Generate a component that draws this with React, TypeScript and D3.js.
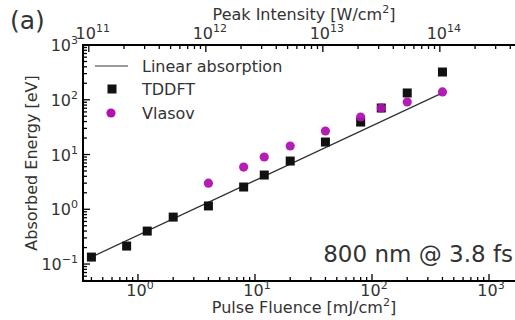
import React from "react";
import * as d3 from "d3";

const fluence = [0.4, 0.8, 1.2, 2, 4, 8, 12, 20, 40, 80, 120, 200, 400];
const tddftEnergy = [0.134, 0.213, 0.4, 0.72, 1.15, 2.55, 4.22, 7.6, 16.9, 39.2, 70.7, 133, 321];
const vlasovFluence = [4, 8, 12, 20, 40, 80, 120, 200, 400];
const vlasovEnergy = [3.0, 5.9, 9.0, 14.3, 26.9, 48.4, 70.7, 91, 139];
const linearFluence = [0.4, 400];
const linearEnergy = [0.134, 134];
const xTickExps = [0, 1, 2, 3];
const yTickExps = [-1, 0, 1, 2, 3];
const topTickExps = [11, 12, 13, 14];
const pulseDurationFs = 3.8;

const W = 515;
const H = 320;
const FONT = "DejaVu Sans, Verdana, sans-serif";
const TXT = "#333";

function minorTicks(lo: number, hi: number, dmin: number, dmax: number) {
  const out: { v: number; major: boolean }[] = [];
  for (let e = lo; e <= hi; e++) {
    for (let m = 1; m <= 9; m++) {
      const v = m * Math.pow(10, e);
      if (v >= dmin && v <= dmax) out.push({ v, major: m === 1 });
    }
  }
  return out;
}

function Pow({ exp, size = 16, sup = 11 }: { exp: number; size?: number; sup?: number }) {
  const e = exp < 0 ? "\u2212" + Math.abs(exp) : String(exp);
  return (
    <>
      <tspan fontSize={size}>10</tspan>
      <tspan fontSize={sup} dy={-7}>{e}</tspan>
    </>
  );
}

export default function App() {
  const left = 83, top = 45, bottom = 281;
  const x = d3.scaleLog().domain([0.339, 2240]).range([left, 530]);
  const y = d3.scaleLog().domain([0.049, 1000]).range([bottom, top]);
  const fToX = (I: number) => x(I * pulseDurationFs * 1e-15 * 1e3);

  const xt = minorTicks(-1, 3, 0.339, 2240);
  const yt = minorTicks(-2, 3, 0.049, 1000);
  const tt = minorTicks(10, 15, 0.339 / (pulseDurationFs * 1e-12), 2240 / (pulseDurationFs * 1e-12));

  const line = d3
    .line<number>()
    .x((_, i) => x(linearFluence[i]))
    .y((_, i) => y(linearEnergy[i]));

  const sq = 9;
  return (
    <svg
      width={W}
      height={H}
      style={{ position: "absolute", left: 0, top: 0, background: "#fff" }}
      fontFamily={FONT}
    >
      <rect x={0} y={0} width={W} height={H} fill="#fff" />
      {/* linear absorption */}
      <path d={line(linearFluence) || ""} fill="none" stroke="#333" strokeWidth={1.3} />
      {/* TDDFT squares */}
      {fluence.map((f, i) => (
        <rect
          key={"s" + i}
          x={x(f) - sq / 2}
          y={y(tddftEnergy[i]) - sq / 2}
          width={sq}
          height={sq}
          fill="#111"
        />
      ))}
      {/* Vlasov circles */}
      {vlasovFluence.map((f, i) => (
        <circle key={"c" + i} cx={x(f)} cy={y(vlasovEnergy[i])} r={4.6} fill="#b012b0" opacity={0.95} />
      ))}

      {/* axes lines */}
      <line x1={left} x2={W} y1={top} y2={top} stroke="#000" strokeWidth={2} />
      <line x1={left} x2={W} y1={bottom} y2={bottom} stroke="#000" strokeWidth={2} />
      <line x1={left} x2={left} y1={top - 1} y2={bottom + 1} stroke="#000" strokeWidth={2} />

      {/* bottom ticks */}
      {xt.map((t, i) => (
        <line
          key={"xt" + i}
          x1={x(t.v)}
          x2={x(t.v)}
          y1={bottom}
          y2={bottom - (t.major ? 7 : 4)}
          stroke="#000"
          strokeWidth={1.3}
        />
      ))}
      {xTickExps.map((e) => (
        <text key={"xl" + e} x={x(Math.pow(10, e)) + 2} y={296} textAnchor="middle" fill={TXT}>
          <Pow exp={e} />
        </text>
      ))}

      {/* top ticks */}
      {tt.map((t, i) => (
        <line
          key={"tt" + i}
          x1={fToX(t.v)}
          x2={fToX(t.v)}
          y1={top}
          y2={top + (t.major ? 7 : 4)}
          stroke="#000"
          strokeWidth={1.3}
        />
      ))}
      {topTickExps.map((e) => (
        <text key={"tl" + e} x={fToX(Math.pow(10, e)) + 4} y={39} textAnchor="middle" fill={TXT}>
          <Pow exp={e} />
        </text>
      ))}

      {/* left ticks */}
      {yt.map((t, i) => (
        <line
          key={"yt" + i}
          x1={left}
          x2={left + (t.major ? 7 : 4)}
          y1={y(t.v)}
          y2={y(t.v)}
          stroke="#000"
          strokeWidth={1.3}
        />
      ))}
      {yTickExps.map((e) => (
        <text key={"yl" + e} x={78} y={y(Math.pow(10, e)) + 6} textAnchor="end" fill={TXT}>
          <Pow exp={e} />
        </text>
      ))}

      {/* axis titles */}
      <text x={304} y={313} textAnchor="middle" fontSize={16} fill={TXT}>
        Pulse Fluence [mJ/cm<tspan fontSize={11} dy={-7}>2</tspan><tspan dy={7}>]</tspan>
      </text>
      <text x={304} y={20} textAnchor="middle" fontSize={16} fill={TXT}>
        Peak Intensity [W/cm<tspan fontSize={11} dy={-7}>2</tspan><tspan dy={7}>]</tspan>
      </text>
      <text
        transform={`translate(37, ${(top + bottom) / 2}) rotate(-90)`}
        textAnchor="middle"
        fontSize={16}
        fill={TXT}
      >
        Absorbed Energy [eV]
      </text>

      <text x={10} y={29} fontSize={25} fill={TXT}>(a)</text>
      <text x={513} y={262} textAnchor="end" fontSize={23} fill={TXT}>800 nm @ 3.8 fs</text>

      {/* legend */}
      <line x1={95} x2={128} y1={66} y2={66} stroke="#777" strokeWidth={1.3} />
      <text x={142} y={72} fontSize={16} fill={TXT}>Linear absorption</text>
      <rect x={112 - sq / 2} y={89 - sq / 2} width={sq} height={sq} fill="#111" />
      <text x={142} y={95} fontSize={16} fill={TXT}>TDDFT</text>
      <circle cx={111} cy={113} r={4.6} fill="#b012b0" />
      <text x={142} y={119} fontSize={16} fill={TXT}>Vlasov</text>
    </svg>
  );
}
